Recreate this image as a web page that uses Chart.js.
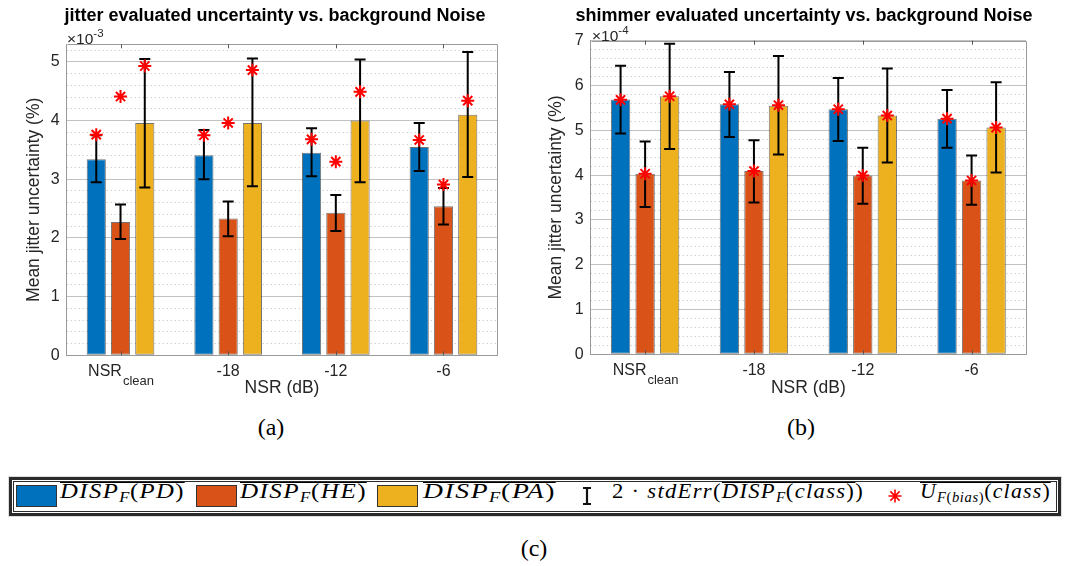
<!DOCTYPE html>
<html>
<head>
<meta charset="utf-8">
<script src="https://cdn.jsdelivr.net/npm/chart.js@4/dist/chart.umd.min.js"></script>
<style>
html,body{margin:0;padding:0;background:#fff;}
body{width:1065px;height:566px;overflow:hidden;position:relative;font-family:"Liberation Sans",Arial,sans-serif;}
canvas{position:absolute;top:0;}
#c1{left:0;}
#c2{left:530px;}
.exp{position:absolute;font-size:15.5px;color:#262626;line-height:16px;}
.exp sup{font-size:11.5px;position:relative;top:-1px;}
.cap{position:absolute;font-family:"Liberation Serif","Times New Roman",serif;font-size:24px;line-height:24px;color:#000;transform:translateX(-50%);}
#lgo{position:absolute;left:9px;top:477px;width:1052px;height:39px;box-sizing:border-box;border:3px solid #2b2b2b;box-shadow:0 0 0 1px #ddd;}
#lgi{position:absolute;left:1px;top:1px;right:1px;bottom:1px;border:1px solid #2b2b2b;}
.sw{position:absolute;top:485px;width:41px;height:22px;box-sizing:border-box;border:1px solid #333;}
.mt{position:absolute;top:481px;font-family:"Liberation Serif","Times New Roman",serif;font-size:21px;line-height:21px;letter-spacing:1.2px;color:#000;white-space:nowrap;transform-origin:0 0;}
.mt i{font-style:italic;}
.mt sub{font-size:14px;line-height:0;vertical-align:-4px;letter-spacing:0.6px;}
.ov{display:inline-block;border-top:1px solid #000;line-height:16px;}
</style>
</head>
<body>
<canvas id="c1" width="550" height="400"></canvas>
<canvas id="c2" width="548" height="400"></canvas>

<div class="exp" style="left:67px;top:26px;">×10<sup>-3</sup></div>
<div class="exp" style="left:592px;top:23px;">×10<sup>-4</sup></div>

<div class="cap" style="left:271px;top:415px;">(a)</div>
<div class="cap" style="left:801px;top:415px;">(b)</div>
<div class="cap" style="left:534px;top:536px;">(c)</div>

<div id="lgo"><div id="lgi"></div></div>
<div class="sw" style="left:16px;background:#0072BD;"></div>
<div class="sw" style="left:196px;background:#D95319;"></div>
<div class="sw" style="left:377px;background:#EDB120;"></div>
<div class="mt" data-w="125" style="left:60px;"><span class="ov"><i>DISP</i><sub><i>F</i></sub>(<i>PD</i>)</span></div>
<div class="mt" data-w="127" style="left:240px;"><span class="ov"><i>DISP</i><sub><i>F</i></sub>(<i>HE</i>)</span></div>
<div class="mt" data-w="133" style="left:423px;"><span class="ov"><i>DISP</i><sub><i>F</i></sub>(<i>PA</i>)</span></div>
<svg style="position:absolute;left:580px;top:486px;" width="14" height="20">
  <path d="M7 2 V18 M3 2 H11 M3 18 H11" stroke="#111" stroke-width="2.2" fill="none"/>
</svg>
<div class="mt" data-w="252" style="left:612px;">2 · <i>stdErr</i>(<span class="ov"><i>DISP</i><sub><i>F</i></sub>(<i>class</i>)</span>)</div>
<svg style="position:absolute;left:887px;top:488px;" width="16" height="16">
  <path d="M8 1.5 V14.5 M1.5 8 H14.5 M3.4 3.4 L12.6 12.6 M12.6 3.4 L3.4 12.6" stroke="#ff0000" stroke-width="1.6" fill="none"/>
</svg>
<div class="mt" data-w="131" style="left:920px;"><span class="ov"><i>U</i><sub><i>F</i>(<i>bias</i>)</sub>(<i>class</i>)</span></div>

<script>
// ---------- data ----------
const categories = ['NSR_clean', '-18', '-12', '-6'];
const seriesNames = ['DISP_F(PD)', 'DISP_F(HE)', 'DISP_F(PA)'];
const seriesColors = ['#0072BD', '#D95319', '#EDB120'];

// jitter (x 1e-3)
const jitterPD = [3.34, 3.41, 3.45, 3.55];
const jitterHE = [2.27, 2.33, 2.43, 2.54];
const jitterPA = [3.96, 3.96, 4.00, 4.10];
const jitterPDLow = [2.95, 3.00, 3.05, 3.14];
const jitterPDHigh = [3.75, 3.84, 3.87, 3.96];
const jitterHELow = [1.98, 2.03, 2.12, 2.23];
const jitterHEHigh = [2.57, 2.62, 2.73, 2.85];
const jitterPALow = [2.86, 2.88, 2.95, 3.04];
const jitterPAHigh = [5.05, 5.06, 5.04, 5.17];
const jitterBiasPD = [3.76, 3.75, 3.68, 3.67];
const jitterBiasHE = [4.41, 3.96, 3.30, 2.91];
const jitterBiasPA = [4.93, 4.86, 4.49, 4.34];

// shimmer (x 1e-4)
const shimmerPD = [5.69, 5.58, 5.47, 5.26];
const shimmerHE = [4.03, 4.09, 3.99, 3.88];
const shimmerPA = [5.76, 5.55, 5.33, 5.06];
const shimmerPDLow = [4.93, 4.85, 4.76, 4.61];
const shimmerPDHigh = [6.44, 6.30, 6.17, 5.90];
const shimmerHELow = [3.29, 3.39, 3.36, 3.34];
const shimmerHEHigh = [4.75, 4.78, 4.61, 4.44];
const shimmerPALow = [4.58, 4.46, 4.28, 4.06];
const shimmerPAHigh = [6.93, 6.66, 6.38, 6.07];
const shimmerBiasPD = [5.68, 5.58, 5.47, 5.26];
const shimmerBiasHE = [4.03, 4.09, 3.99, 3.88];
const shimmerBiasPA = [5.76, 5.56, 5.33, 5.06];

const jitterTicks = [0, 1, 2, 3, 4, 5];
const shimmerTicks = [0, 1, 2, 3, 4, 5, 6, 7];

// ---------- legend text width fit ----------
document.querySelectorAll('.mt[data-w]').forEach(el => {
  const w = el.getBoundingClientRect().width;
  el.style.transform = 'scaleX(' + (parseFloat(el.dataset.w) / w) + ')';
});

// ---------- drawing ----------
const TXT = '#262626';
const AX = '#9a9a9a';

function drawStar(ctx, x, y, r) {
  ctx.beginPath();
  for (let k = 0; k < 4; k++) {
    const a = k * Math.PI / 4;
    ctx.moveTo(x - r * Math.cos(a), y - r * Math.sin(a));
    ctx.lineTo(x + r * Math.cos(a), y + r * Math.sin(a));
  }
  ctx.stroke();
}

const overlay = {
  id: 'overlay',
  afterDatasetsDraw(chart) {
    const { ctx, chartArea: a, scales } = chart;
    const x = scales.x, y = scales.y;
    const ex = chart.options.plugins.overlay;
    ctx.save();
    // axes box (top & right) + category ticks
    ctx.strokeStyle = AX; ctx.lineWidth = 1;
    ctx.beginPath();
    ctx.moveTo(Math.round(a.left) + 0.5, Math.round(a.top) + 0.5);
    ctx.lineTo(Math.round(a.right) + 0.5, Math.round(a.top) + 0.5);
    ctx.lineTo(Math.round(a.right) + 0.5, Math.round(a.bottom) + 0.5);
    ctx.stroke();
    ctx.strokeStyle = '#555';
    ctx.beginPath();
    categories.forEach((c, i) => {
      const px = Math.round(x.getPixelForValue(i)) + 0.5;
      ctx.moveTo(px, a.top); ctx.lineTo(px, a.top + 4);
      ctx.moveTo(px, a.bottom); ctx.lineTo(px, a.bottom - 4);
    });
    ctx.stroke();
    // error bars
    ctx.strokeStyle = '#000'; ctx.lineWidth = 2;
    chart.data.datasets.forEach((ds, j) => {
      chart.getDatasetMeta(j).data.forEach((bar, i) => {
        const bx = bar.x;
        const y1 = y.getPixelForValue(ex.low[j][i]);
        const y2 = y.getPixelForValue(ex.high[j][i]);
        ctx.beginPath();
        ctx.moveTo(bx, y1); ctx.lineTo(bx, y2);
        ctx.moveTo(bx - 5.5, y1); ctx.lineTo(bx + 5.5, y1);
        ctx.moveTo(bx - 5.5, y2); ctx.lineTo(bx + 5.5, y2);
        ctx.stroke();
      });
    });
    // bias stars
    ctx.strokeStyle = '#ff0000'; ctx.lineWidth = 2;
    chart.data.datasets.forEach((ds, j) => {
      chart.getDatasetMeta(j).data.forEach((bar, i) => {
        drawStar(ctx, bar.x, y.getPixelForValue(ex.bias[j][i]), 6.5);
      });
    });
    // composite (subscripted) tick labels
    const tf = Chart.helpers.toFont(x.options.ticks.font);
    const ly = a.bottom + x.options.ticks.padding + tf.lineHeight / 2;
    categories.forEach((c, i) => {
      if (c.indexOf('_') < 0) return;
      const [main, sub] = c.split('_');
      const px = x.getPixelForValue(i);
      ctx.fillStyle = TXT;
      ctx.textBaseline = 'middle';
      ctx.textAlign = 'left';
      ctx.font = tf.string;
      const w1 = ctx.measureText(main).width;
      const subFont = Chart.helpers.toFont({ family: tf.family, size: 13 });
      ctx.font = subFont.string;
      const w2 = ctx.measureText(sub).width;
      const sx = px - (w1 + w2) / 2;
      ctx.font = tf.string;
      ctx.fillText(main, sx, ly);
      ctx.font = subFont.string;
      ctx.fillText(sub, sx + w1 + 1, ly + 9.5);
    });
    ctx.restore();
  }
};

function makeChart(id, cfg) {
  const data = {
    labels: categories,
    datasets: cfg.values.map((v, j) => ({
      label: seriesNames[j],
      data: v,
      backgroundColor: seriesColors[j],
      borderColor: 'rgba(0,0,0,0.55)',
      borderWidth: 1,
      borderSkipped: false,
      categoryPercentage: 0.676,
      barPercentage: 0.79
    }))
  };
  const isMajor = v => Math.abs(v - Math.round(v)) < 1e-6;
  return new Chart(document.getElementById(id), {
    type: 'bar',
    data,
    plugins: [overlay],
    options: {
      responsive: false,
      animation: false,
      devicePixelRatio: 1,
      layout: { padding: 0 },
      plugins: {
        legend: { display: false },
        tooltip: { enabled: false },
        title: {
          display: true, text: cfg.title, color: '#000',
          font: { family: 'Liberation Sans', size: 18, weight: 'bold', lineHeight: 1.2 },
          padding: { top: cfg.titleTop, bottom: cfg.titleBottom }
        },
        overlay: { low: cfg.low, high: cfg.high, bias: cfg.bias }
      },
      scales: {
        x: {
          type: 'category', offset: true,
          grid: { display: false, drawTicks: false },
          border: { color: AX, width: 1 },
          ticks: {
            color: TXT, padding: 7, autoSkip: false, maxRotation: 0,
            font: { family: 'Liberation Sans', size: 16 },
            callback: function (v) { const l = this.getLabelForValue(v); return l.indexOf('_') >= 0 ? '' : l; }
          },
          title: { display: true, text: 'NSR (dB)', color: TXT, font: { family: 'Liberation Sans', size: 17.5 }, padding: { top: 0, bottom: 1 } },
          afterFit: s => { s.height = cfg.xH; }
        },
        y: {
          type: 'linear', min: 0, max: cfg.max,
          afterBuildTicks: s => { s.ticks = cfg.ticks.map(v => ({ value: v })); },
          ticks: { color: TXT, padding: 7, font: { family: 'Liberation Sans', size: 16 } },
          grid: { color: '#c2c2c2', lineWidth: 1, drawTicks: false },
          border: { color: AX, width: 1 },
          title: { display: true, text: 'Mean jitter uncertainty (%)', color: TXT, font: { family: 'Liberation Sans', size: 17.5 }, padding: { top: cfg.yTitlePad, bottom: 0 } },
          afterFit: s => { s.width = cfg.yW; }
        },
        yMinor: {
          type: 'linear', position: 'right', min: 0, max: cfg.max,
          ticks: { display: false, stepSize: 0.2, includeBounds: false },
          grid: { drawTicks: false, lineWidth: 1, color: c => isMajor(c.tick.value) ? 'rgba(0,0,0,0)' : '#bdbdbd' },
          border: { display: false, dash: [1, 3] },
          afterFit: s => { s.width = cfg.rW; }
        }
      }
    }
  });
}

makeChart('c1', {
  title: 'jitter evaluated uncertainty vs. background Noise',
  values: [jitterPD, jitterHE, jitterPA],
  low: [jitterPDLow, jitterHELow, jitterPALow],
  high: [jitterPDHigh, jitterHEHigh, jitterPAHigh],
  bias: [jitterBiasPD, jitterBiasHE, jitterBiasPA],
  ticks: jitterTicks, max: 5.3,
  titleTop: 5.7, titleBottom: 17,
  yW: 66.7, rW: 52.7, xH: 44.7, yTitlePad: 24
});
makeChart('c2', {
  title: 'shimmer evaluated uncertainty vs. background Noise',
  values: [shimmerPD, shimmerHE, shimmerPA],
  low: [shimmerPDLow, shimmerHELow, shimmerPALow],
  high: [shimmerPDHigh, shimmerHEHigh, shimmerPAHigh],
  bias: [shimmerBiasPD, shimmerBiasHE, shimmerBiasPA],
  ticks: shimmerTicks, max: 7,
  titleTop: 5, titleBottom: 14.1,
  yW: 60.7, rW: 52, xH: 45.7, yTitlePad: 15.5
});
</script>
</body>
</html>
